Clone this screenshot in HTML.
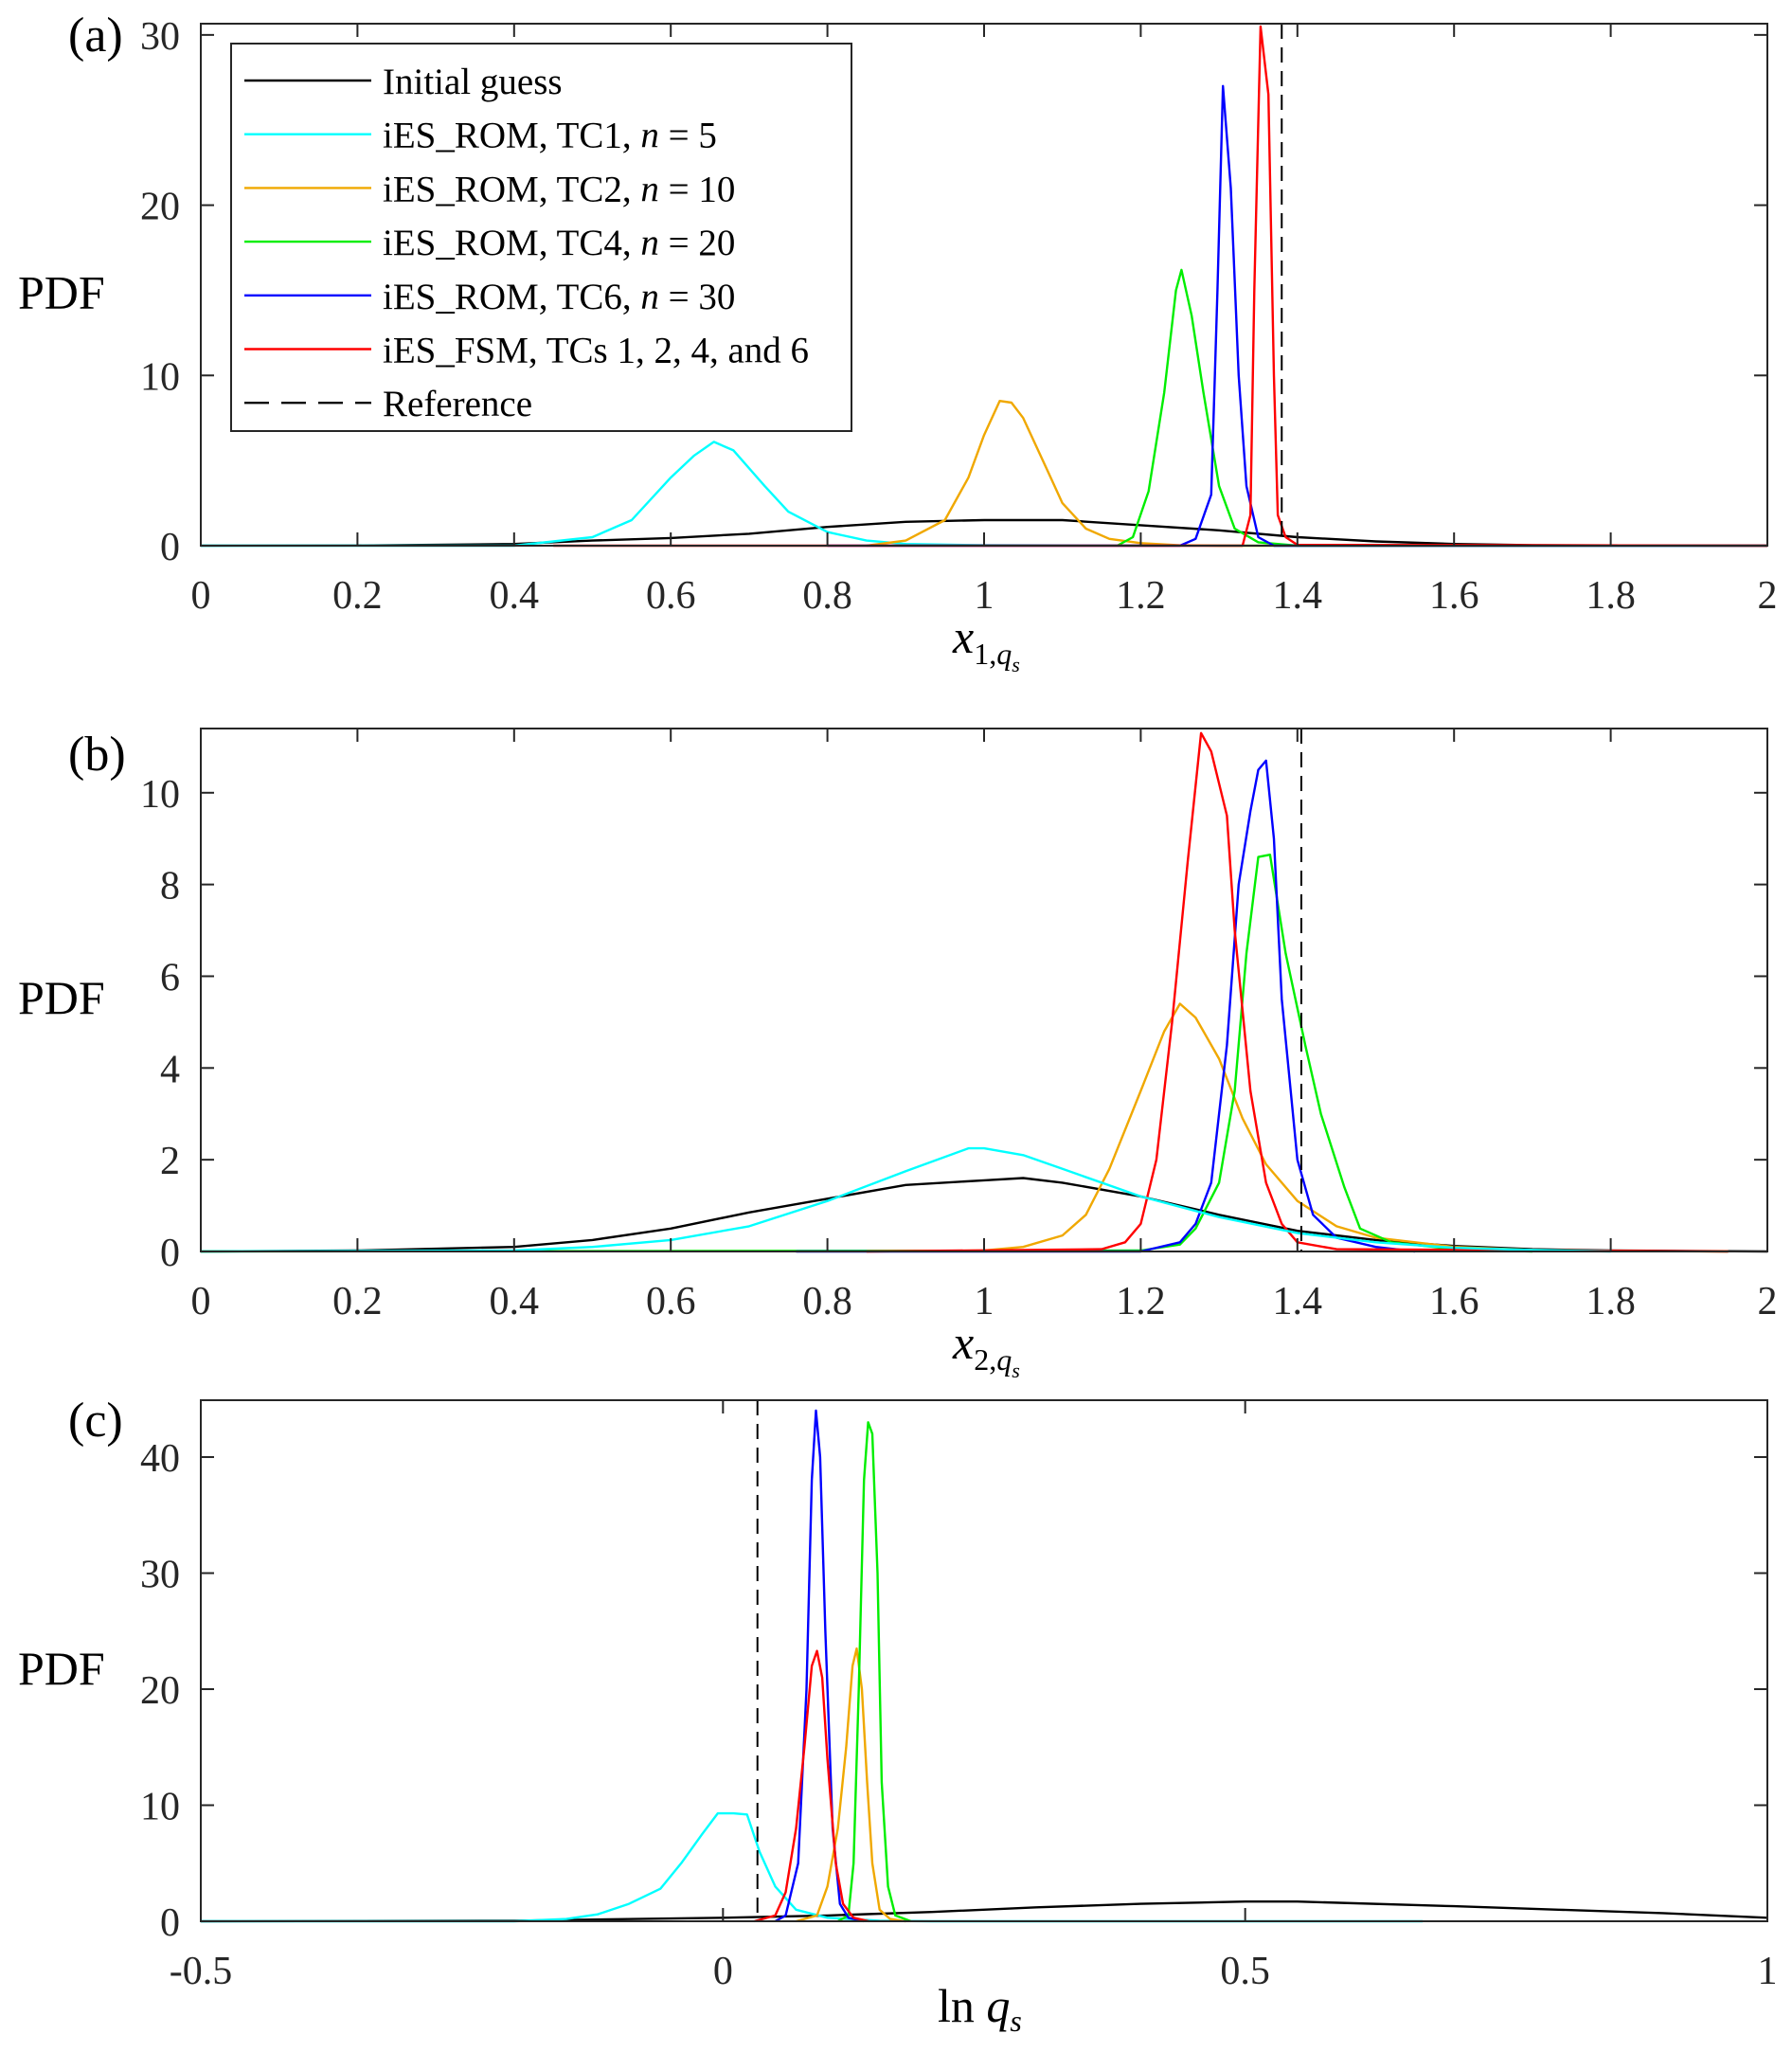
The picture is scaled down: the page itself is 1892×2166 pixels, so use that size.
<!DOCTYPE html>
<html><head><meta charset="utf-8"><style>
html,body{margin:0;padding:0;background:#fff;}
svg{display:block;font-family:"Liberation Serif",serif;}
</style></head><body>
<svg id="chart" width="1892" height="2166" viewBox="0 0 1892 2166" xmlns="http://www.w3.org/2000/svg"></svg>
<script>
// ---- Data ----
const seriesNames = ["Initial guess","iES_ROM, TC1, n = 5","iES_ROM, TC2, n = 10","iES_ROM, TC4, n = 20","iES_ROM, TC6, n = 30","iES_FSM, TCs 1, 2, 4, and 6"];
const seriesKeys = ["initial","tc1","tc2","tc4","tc6","fsm"];
const seriesColors = ["#000000","#00ffff","#f0a800","#00ee00","#0000ff","#ff0000"];

const aInitialX=[0,0.2,0.4,0.5,0.6,0.7,0.8,0.9,1.0,1.1,1.2,1.3,1.4,1.5,1.6,1.7,2];
const aInitialY=[0,0.01,0.1,0.3,0.45,0.7,1.1,1.4,1.5,1.5,1.2,0.9,0.5,0.25,0.1,0.03,0];
const aTc1X=[0,0.4,0.5,0.55,0.6,0.63,0.655,0.68,0.72,0.75,0.8,0.85,0.9,1.0,1.4];
const aTc1Y=[0,0,0.5,1.5,4,5.3,6.1,5.6,3.5,2,0.8,0.3,0.1,0.03,0];
const aTc2X=[0.85,0.9,0.95,0.98,1.0,1.02,1.035,1.05,1.08,1.1,1.13,1.16,1.2,1.25,1.3,2];
const aTc2Y=[0,0.3,1.5,4,6.5,8.5,8.4,7.5,4.5,2.5,1,0.4,0.15,0.02,0,0];
const aTc4X=[1.17,1.19,1.21,1.23,1.245,1.252,1.265,1.28,1.3,1.32,1.35,1.4,2];
const aTc4Y=[0,0.5,3.2,9,15,16.2,13.5,9,3.5,1,0.2,0,0];
const aTc6X=[0.8,1.25,1.27,1.29,1.298,1.305,1.315,1.325,1.335,1.35,1.37,2];
const aTc6Y=[0,0,0.4,3,15,27,21,10,3.5,0.5,0,0];
const aFsmX=[0.45,1.33,1.34,1.345,1.353,1.363,1.37,1.375,1.385,1.4,2];
const aFsmY=[0,0,1.8,15,30.5,26.5,10,1.8,0.5,0.05,0];

const bInitialX=[0,0.2,0.4,0.5,0.6,0.7,0.8,0.9,1.0,1.05,1.1,1.2,1.3,1.4,1.5,1.6,1.7,1.8,2];
const bInitialY=[0,0.02,0.1,0.25,0.5,0.85,1.15,1.45,1.55,1.6,1.5,1.2,0.8,0.45,0.25,0.12,0.05,0.02,0];
const bTc1X=[0,0.4,0.5,0.6,0.7,0.8,0.9,0.98,1.0,1.05,1.1,1.2,1.3,1.4,1.5,1.6,1.7,1.8];
const bTc1Y=[0,0.02,0.1,0.25,0.55,1.1,1.75,2.25,2.25,2.1,1.8,1.2,0.75,0.4,0.2,0.08,0.03,0];
const bTc2X=[0.85,1.0,1.05,1.1,1.13,1.16,1.2,1.23,1.25,1.27,1.3,1.33,1.36,1.4,1.45,1.5,1.55,1.6,1.7,1.8,1.95];
const bTc2Y=[0,0.02,0.1,0.35,0.8,1.8,3.5,4.8,5.4,5.1,4.2,2.9,1.9,1.1,0.55,0.3,0.2,0.1,0.03,0.01,0];
const bTc4X=[0,1.2,1.25,1.27,1.3,1.32,1.335,1.35,1.365,1.385,1.41,1.43,1.46,1.48,1.52,1.6,1.7];
const bTc4Y=[0,0.02,0.15,0.5,1.5,3.5,6.5,8.6,8.65,6.5,4.5,3,1.4,0.5,0.2,0.05,0];
const bTc6X=[0.76,1.2,1.25,1.27,1.29,1.31,1.325,1.34,1.35,1.36,1.37,1.38,1.4,1.42,1.45,1.5,1.55];
const bTc6Y=[0,0,0.2,0.6,1.5,4.5,8,9.6,10.5,10.7,9,5.5,2,0.8,0.3,0.1,0];
const bFsmX=[0.85,1.15,1.18,1.2,1.22,1.24,1.26,1.277,1.29,1.31,1.32,1.34,1.36,1.38,1.4,1.45,1.95];
const bFsmY=[0,0.05,0.2,0.6,2,5,8.5,11.3,10.9,9.5,7,3.5,1.5,0.6,0.2,0.05,0];

const cInitialX=[-0.5,-0.2,0,0.1,0.2,0.3,0.4,0.5,0.55,0.7,0.8,0.9,1.0];
const cInitialY=[0,0.05,0.3,0.5,0.8,1.2,1.5,1.7,1.7,1.3,1.0,0.7,0.3];
const cTc1X=[-0.5,-0.2,-0.15,-0.12,-0.09,-0.06,-0.04,-0.02,-0.005,0.01,0.023,0.035,0.05,0.07,0.1,0.15,0.2,0.67];
const cTc1Y=[0,0,0.2,0.6,1.5,2.8,5,7.5,9.3,9.3,9.2,6,3,1,0.3,0.05,0,0];
const cTc2X=[0.07,0.09,0.1,0.11,0.118,0.124,0.128,0.133,0.138,0.143,0.15,0.16,0.175];
const cTc2Y=[0,0.5,3,8,15,22,23.5,20,12,5,1,0.2,0];
const cTc4X=[0.11,0.12,0.125,0.13,0.135,0.139,0.143,0.148,0.152,0.158,0.165,0.18];
const cTc4Y=[0,0.5,5,20,38,43,42,30,12,3,0.5,0];
const cTc6X=[0.05,0.06,0.072,0.08,0.085,0.089,0.093,0.098,0.105,0.112,0.12,0.135];
const cTc6Y=[0,0.5,5,20,38,44,40,25,8,1.5,0.3,0];
const cFsmX=[0.03,0.05,0.06,0.07,0.078,0.085,0.09,0.095,0.1,0.108,0.115,0.125,0.14];
const cFsmY=[0,0.5,2.5,8,15,22,23.3,21,14,5,1.5,0.3,0];

const aXTicks=[0,0.2,0.4,0.6,0.8,1,1.2,1.4,1.6,1.8,2];
const aYTicks=[0,10,20,30];
const bXTicks=[0,0.2,0.4,0.6,0.8,1,1.2,1.4,1.6,1.8,2];
const bYTicks=[0,2,4,6,8,10];
const cXTicks=[-0.5,0,0.5,1];
const cYTicks=[0,10,20,30,40];
const aRef=1.38, bRef=1.405, cRef=0.033;

// ---- Drawing ----
const NS="http://www.w3.org/2000/svg";
const svg=document.getElementById('chart');
function mk(tag,attrs,parent){const e=document.createElementNS(NS,tag);for(const k in attrs)e.setAttribute(k,attrs[k]);(parent||svg).appendChild(e);return e;}

const panels=[
 {id:'a',L:212,R:1866,T:25,B:576,xmin:0,xmax:2,ymax:30.66,xt:aXTicks,yt:aYTicks,ref:aRef,lab:'(a)',labY:54,
  data:[[aInitialX,aInitialY],[aTc1X,aTc1Y],[aTc2X,aTc2Y],[aTc4X,aTc4Y],[aTc6X,aTc6Y],[aFsmX,aFsmY]],xl:1,ord:[0,1,2,3,4,5]},
 {id:'b',L:212,R:1866,T:769,B:1321,xmin:0,xmax:2,ymax:11.4,xt:bXTicks,yt:bYTicks,ref:bRef,lab:'(b)',labY:813,
  data:[[bInitialX,bInitialY],[bTc1X,bTc1Y],[bTc2X,bTc2Y],[bTc4X,bTc4Y],[bTc6X,bTc6Y],[bFsmX,bFsmY]],xl:2,ord:[0,2,3,4,5,1]},
 {id:'c',L:212,R:1866,T:1478,B:2028,xmin:-0.5,xmax:1,ymax:44.9,xt:cXTicks,yt:cYTicks,ref:cRef,lab:'(c)',labY:1516,
  data:[[cInitialX,cInitialY],[cTc1X,cTc1Y],[cTc2X,cTc2Y],[cTc4X,cTc4Y],[cTc6X,cTc6Y],[cFsmX,cFsmY]],xl:3,ord:[0,1,2,3,4,5]}
];

panels.forEach(p=>{
  const g=mk('g',{});
  
  
  const sx=v=>p.L+(v-p.xmin)/(p.xmax-p.xmin)*(p.R-p.L);
  const sy=v=>p.B-v/p.ymax*(p.B-p.T);
  p.ord.forEach(i=>{
    const [xs,ys]=p.data[i];
    const pts=xs.map((x,j)=>sx(x).toFixed(1)+','+sy(ys[j]).toFixed(1)).join(' ');
    const pl=mk('polyline',{points:pts,fill:'none',stroke:seriesColors[i],'stroke-width':2.4,'stroke-linejoin':'round'},g);
    
    
  });
  const rl=mk('line',{x1:sx(p.ref),x2:sx(p.ref),y1:p.T,y2:p.B,stroke:'#000','stroke-width':2,'stroke-dasharray':'16,9'},g);
  
  
  const box=mk('rect',{x:p.L,y:p.T,width:p.R-p.L,height:p.B-p.T,fill:'none',stroke:'#262626','stroke-width':2},g);
  
  
  p.xt.forEach(t=>{
    const x=sx(t);
    mk('line',{x1:x,x2:x,y1:p.B,y2:p.B-14,stroke:'#262626','stroke-width':2},g);
    mk('line',{x1:x,x2:x,y1:p.T,y2:p.T+14,stroke:'#262626','stroke-width':2},g);
    const tx=mk('text',{x:x,y:p.B+66,'text-anchor':'middle','font-size':42,fill:'#262626'},g);
    tx.textContent=String(t);
    
    
  });
  p.yt.forEach(t=>{
    const y=sy(t);
    mk('line',{x1:p.L,x2:p.L+14,y1:y,y2:y,stroke:'#262626','stroke-width':2},g);
    mk('line',{x1:p.R,x2:p.R-14,y1:y,y2:y,stroke:'#262626','stroke-width':2},g);
    const tx=mk('text',{x:p.L-22,y:y+15,'text-anchor':'end','font-size':42,fill:'#262626'},g);
    tx.textContent=String(t);
    
    
  });
  const pl=mk('text',{x:72,y:p.labY,'font-size':52,fill:'#000'},g);
  pl.textContent=p.lab;
  
  
  const yl=mk('text',{x:19,y:(p.T+p.B)/2+25,'font-size':50,fill:'#000'},g);
  yl.textContent='PDF';
  
  
  let xl;
  if(p.xl<3){
    xl=mk('text',{x:1006,y:p.B+113,'font-size':50,fill:'#000'},g);
    xl.innerHTML='<tspan font-style="italic">x</tspan><tspan font-size="32" dy="12">'+p.xl+',</tspan><tspan font-size="32" font-style="italic">q</tspan><tspan font-size="22" font-style="italic" dy="8">s</tspan>';
  } else {
    xl=mk('text',{x:990,y:p.B+106,'font-size':50,fill:'#000'},g);
    xl.innerHTML='ln <tspan font-style="italic">q</tspan><tspan font-size="32" font-style="italic" dy="10">s</tspan>';
  }
  
  
});

const lg=mk('g',{});


mk('rect',{x:244,y:46,width:655,height:409,fill:'#fff',stroke:'#262626','stroke-width':2},lg);
const entries=seriesNames.concat(['Reference']);
entries.forEach((n,i)=>{
  const y=85+i*56.7;
  const e=mk('g',{},lg);
  
  
  const ln=mk('line',{x1:258,x2:392,y1:y,y2:y,stroke:i<6?seriesColors[i]:'#000','stroke-width':2.4},e);
  if(i===6) ln.setAttribute('stroke-dasharray','26,13');
  const t=mk('text',{x:404,y:y+14,'font-size':39,fill:'#000'},e);
  const m=n.match(/^(.*), n = (\d+)$/);
  if(m){t.innerHTML=m[1]+', <tspan font-style="italic">n</tspan> = '+m[2];}
  else t.textContent=n;
});
</script>
</body></html>
